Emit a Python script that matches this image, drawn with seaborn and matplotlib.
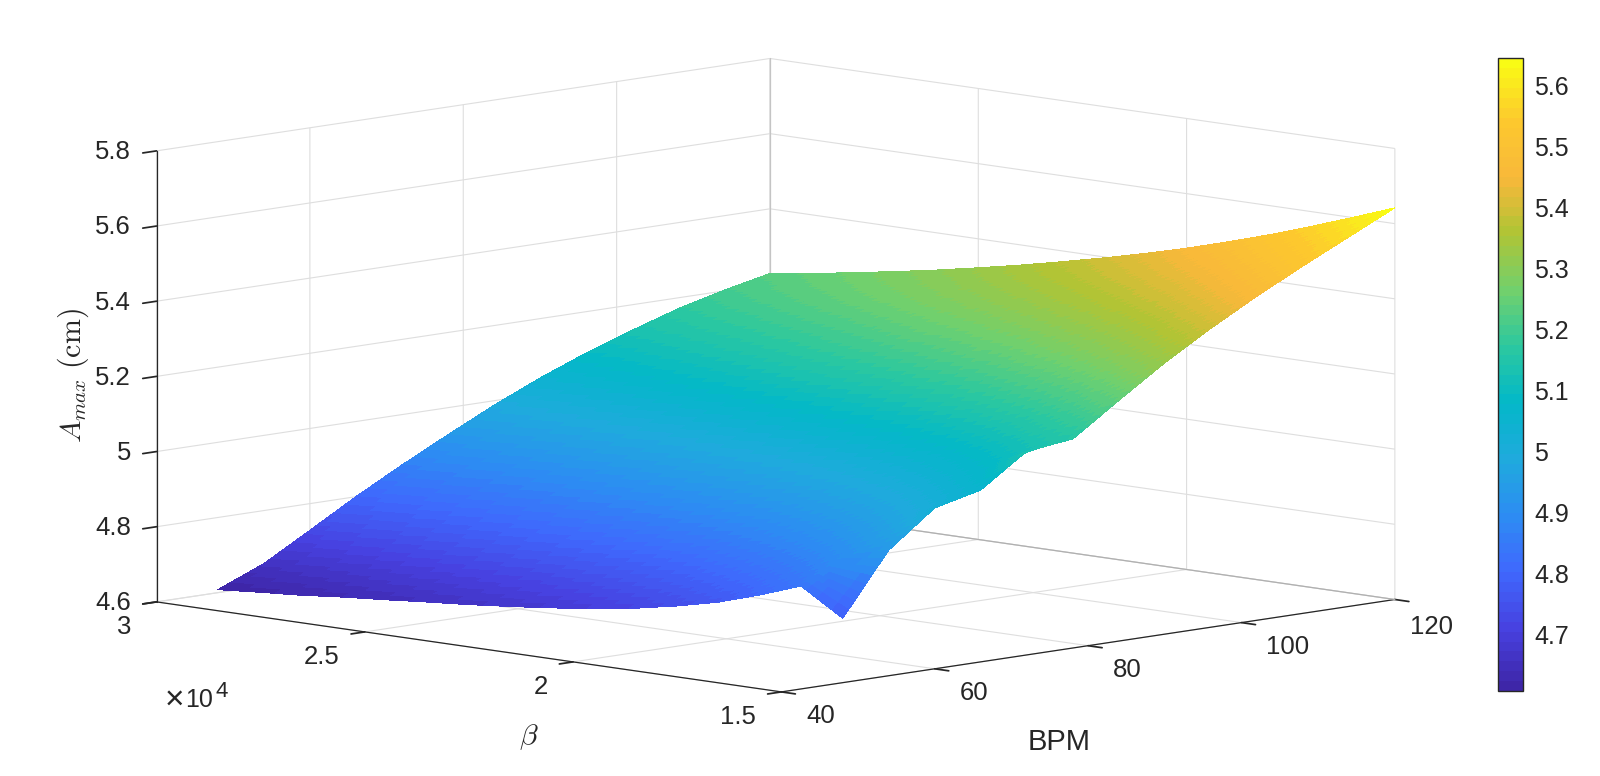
import numpy as np
import matplotlib
matplotlib.use("Agg")
import matplotlib.pyplot as plt
import matplotlib.transforms as mtrans
import seaborn as sns

sns.set_theme(style="white")
plt.rcParams["font.family"] = ["Liberation Sans", "DejaVu Sans"]
plt.rcParams["mathtext.fontset"] = "cm"

bpm = [48, 54, 60, 66, 72, 78, 84, 90, 96, 102, 108, 114, 120]
beta = [15000, 16000, 17000, 18000, 19000, 20000, 21000, 22000,
        23000, 24000, 25000, 26000, 27000, 28000, 29000, 30000]

# one row per beta, one column per bpm
amax = [
    [4.771, 4.934, 5.028, 5.057, 5.142, 5.156, 5.240, 5.322, 5.395, 5.462, 5.524, 5.583, 5.642],
    [4.841, 4.905, 4.965, 5.020, 5.075, 5.130, 5.200, 5.280, 5.355, 5.422, 5.484, 5.542, 5.601],
    [4.801, 4.864, 4.926, 4.984, 5.041, 5.097, 5.167, 5.247, 5.320, 5.386, 5.447, 5.504, 5.561],
    [4.766, 4.829, 4.893, 4.953, 5.010, 5.068, 5.138, 5.216, 5.288, 5.353, 5.412, 5.467, 5.523],
    [4.740, 4.802, 4.867, 4.929, 4.988, 5.046, 5.116, 5.192, 5.263, 5.325, 5.383, 5.437, 5.488],
    [4.718, 4.779, 4.845, 4.908, 4.968, 5.027, 5.096, 5.170, 5.238, 5.299, 5.356, 5.406, 5.455],
    [4.702, 4.762, 4.828, 4.892, 4.954, 5.013, 5.081, 5.154, 5.219, 5.278, 5.332, 5.381, 5.425],
    [4.687, 4.746, 4.813, 4.878, 4.939, 4.999, 5.066, 5.136, 5.200, 5.257, 5.309, 5.355, 5.397],
    [4.675, 4.733, 4.800, 4.866, 4.929, 4.989, 5.055, 5.123, 5.184, 5.239, 5.290, 5.334, 5.371],
    [4.664, 4.721, 4.789, 4.855, 4.919, 4.979, 5.044, 5.110, 5.169, 5.221, 5.270, 5.313, 5.346],
    [4.655, 4.711, 4.779, 4.846, 4.908, 4.969, 5.033, 5.096, 5.153, 5.203, 5.250, 5.290, 5.323],
    [4.645, 4.700, 4.768, 4.836, 4.899, 4.960, 5.024, 5.085, 5.139, 5.188, 5.233, 5.272, 5.301],
    [4.636, 4.690, 4.758, 4.827, 4.891, 4.952, 5.014, 5.073, 5.126, 5.173, 5.217, 5.253, 5.281],
    [4.625, 4.678, 4.747, 4.816, 4.882, 4.943, 5.005, 5.062, 5.113, 5.158, 5.200, 5.235, 5.262],
    [4.617, 4.669, 4.738, 4.809, 4.874, 4.935, 4.996, 5.052, 5.101, 5.145, 5.186, 5.218, 5.244],
    [4.608, 4.659, 4.729, 4.800, 4.866, 4.928, 4.988, 5.042, 5.090, 5.132, 5.171, 5.202, 5.228],
]

bpm_ticks = [40, 60, 80, 100, 120]
beta_ticks = [15000, 20000, 25000, 30000]
beta_labels = ["1.5", "2", "2.5", "3"]
amax_ticks = [4.6, 4.8, 5.0, 5.2, 5.4, 5.6, 5.8]
amax_labels = ["4.6", "4.8", "5", "5.2", "5.4", "5.6", "5.8"]
cbar_ticks = [4.7, 4.8, 4.9, 5.0, 5.1, 5.2, 5.3, 5.4, 5.5, 5.6]
cbar_labels = ["4.7", "4.8", "4.9", "5", "5.1", "5.2", "5.3", "5.4", "5.5", "5.6"]

parula_stops = ["#3e26a8", "#4741e0", "#3f68fd", "#2d8cf3", "#1faadd", "#03b8c8",
                "#2bc8a0", "#72d06c", "#b0c435", "#f8b83a", "#fdc92e", "#f9fb15"]
ink = "#262626"
grid = "#dedede"
TEXT = 18.5


def refine(values, n=8):
    # same idea as "shading interp": split every facet so the colour runs smoothly
    values = np.asarray(values, dtype=float)
    pos = np.linspace(0, len(values) - 1, (len(values) - 1) * n + 1)
    return np.interp(pos, np.arange(len(values)), values)


def nudge(labels, dx, dy):
    # mplot3d puts tick labels along the tick direction and resets their
    # transform on every get_major_ticks, so pin the shifted one
    for t in labels:
        t.set_transform(t.get_transform() + mtrans.Affine2D().translate(dx, dy))
        t.set_transform = lambda tr: None


z = np.array(amax)
z_fine = np.array([refine(row) for row in z])
z_fine = np.array([refine(col) for col in z_fine.T]).T
X, Y = np.meshgrid(refine(bpm), refine(beta))

cmap = matplotlib.colors.ListedColormap(sns.blend_palette(parula_stops, n_colors=64))
norm = matplotlib.colors.Normalize(vmin=4.6066, vmax=5.6438)

fig = plt.figure(figsize=(16, 7.76), dpi=100, facecolor="white")
ax = fig.add_axes([0.0, 0.003, 0.9565, 1.0], projection="3d", proj_type="ortho",
                  facecolor="none", computed_zorder=False)
ax.view_init(elev=8.47, azim=-135.64)
ax.set_box_aspect((877.5, 874, 456), zoom=1.651)

surf = ax.plot_surface(X, Y, z_fine, cmap=cmap, norm=norm, rstride=1, cstride=1,
                       linewidth=0, antialiased=False, shade=False, zorder=3)
surf.set_clip_on(False)

# darker box edges behind the surface
ax.plot([120, 120], [15000, 30000], [4.6, 4.6], color="#b0b0b0", lw=0.9, clip_on=False, zorder=1)
ax.plot([120, 120], [30000, 30000], [4.6, 5.8], color="#c4c4c4", lw=0.9, clip_on=False, zorder=1)

ax.set_xlim(40, 120, view_margin=0)
ax.set_ylim(15000, 30000, view_margin=0)
ax.set_zlim(4.6, 5.8, view_margin=0)
ax.set_xticks(bpm_ticks)
ax.set_yticks(beta_ticks)
ax.set_yticklabels(beta_labels)
ax.set_zticks(amax_ticks)
ax.set_zticklabels(amax_labels)
ax.tick_params(labelsize=TEXT, colors=ink, pad=6)

for axis in (ax.xaxis, ax.yaxis, ax.zaxis):
    axis.set_pane_color((1, 1, 1, 0))
    axis.pane.set_edgecolor((1, 1, 1, 0))
    axis.line.set_color(ink)
    axis.line.set_linewidth(0.9)
    axis._axinfo["grid"].update(color=grid, linewidth=0.8, linestyle="-")
    axis._axinfo["tick"].update(inward_factor=0.28, outward_factor=0.0)

for t in ax.get_zticklabels():
    t.set_va("bottom")
    t.set_ha("right")
for t in ax.get_xticklabels():
    t.set_ha("left")
for t in ax.get_yticklabels():
    t.set_ha("right")
nudge(ax.get_zticklabels(), 34, -13.3)
nudge(ax.get_xticklabels()[:-1], -5.5, 14)
nudge(ax.get_xticklabels()[-1:], -14.5, 11)
nudge(ax.get_yticklabels(), 4.5, 13.3)

fig.text(1059 / 1600, 1 - 742 / 776, "BPM", fontsize=21, color=ink, ha="center", va="center")
fig.text(529 / 1600, 1 - 737 / 776, r"$\beta$", fontsize=TEXT + 3, color=ink, ha="center", va="center")
fig.text(73.5 / 1600, 1 - 376 / 776, r"$A_{max}\ \mathrm{(cm)}$", fontsize=21.5, color=ink,
         rotation=90, ha="center", va="center")
fig.text(165 / 1600, 1 - 700 / 776, "\u00d7", fontsize=24, color=ink, va="center")
fig.text(185 / 1600, 1 - 700 / 776, "10", fontsize=18, color=ink, va="center")
fig.text(215 / 1600, 1 - 681 / 776, "4", fontsize=16, color=ink, va="top")

cax = fig.add_axes([1498.3 / 1600, 1 - 691 / 776, 25 / 1600, (691 - 58.3) / 776])
cbar = fig.colorbar(surf, cax=cax, ticks=cbar_ticks)
cbar.ax.set_yticklabels(cbar_labels)
cbar.ax.tick_params(labelsize=18, colors=ink, direction="in", length=5, width=0.9,
                    left=False, right=True, pad=8)
cbar.outline.set_edgecolor(ink)
cbar.outline.set_linewidth(1.0)

fig.savefig("out.png", dpi=100)
